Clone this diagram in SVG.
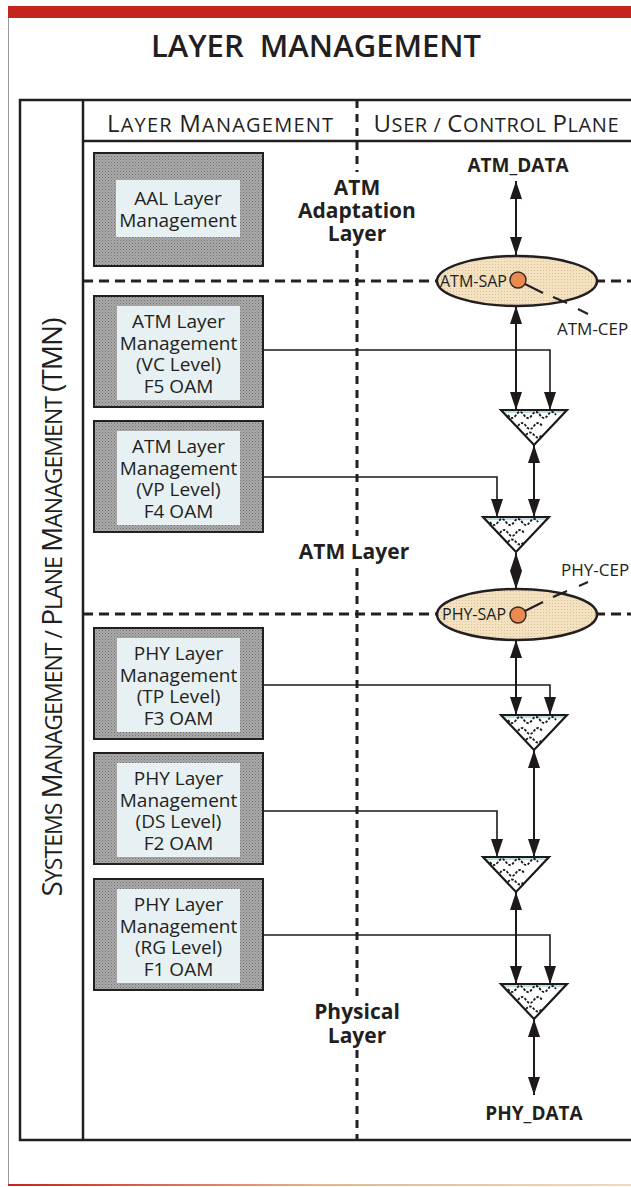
<svg xmlns="http://www.w3.org/2000/svg" width="631" height="1187" viewBox="0 0 631 1187">
<style>
text{font-family:"Open Sans","Noto Sans","Liberation Sans",sans-serif;fill:#231f20}
.title{font-size:31px;font-weight:600}
.hdr{font-size:20px}
.hb{font-size:24px}
.side{font-size:23px}
.sb{font-size:28px}
.bt{font-size:19px;text-anchor:middle}
.lay{font-size:21px;font-weight:700;text-anchor:middle}
.data{font-size:19px;font-weight:700;text-anchor:middle}
.sap{font-size:16px}
.cep{font-size:17px}
.frame{fill:none;stroke:#231f20;stroke-width:2.5}
.dash{fill:none;stroke:#231f20;stroke-width:3;stroke-dasharray:10 6}
.vdash{fill:none;stroke:#231f20;stroke-width:3;stroke-dasharray:8 6}
.box{fill:url(#gray);stroke:#231f20;stroke-width:2}
.inner{fill:#e7f0f3}
.ell{fill:url(#beige);stroke:#231f20;stroke-width:2.5}
.dot{fill:#e98a4e;stroke:#3a2a20;stroke-width:1.5}
.arr{fill:none;stroke:#1e1a1a;stroke-width:2;marker-start:url(#ah);marker-end:url(#ah)}
.con{fill:none;stroke:#1e1a1a;stroke-width:1.6;marker-end:url(#ah)}
.cep-l{stroke:#231f20;stroke-width:2}
.wave{fill:none;stroke:#1e1a1a;stroke-width:1.8;stroke-dasharray:2.5 1.5}
</style>
<defs>
<pattern id="gray" width="3" height="3" patternUnits="userSpaceOnUse">
<rect width="3" height="3" fill="#ababab"/><rect width="1" height="1" fill="#6f6f6f"/><rect x="1.5" y="1.5" width="1" height="1" fill="#7e7e7e"/>
</pattern>
<pattern id="beige" width="3" height="3" patternUnits="userSpaceOnUse">
<rect width="3" height="3" fill="#f3e1c0"/><rect width="1" height="1" fill="#d8c19b"/>
</pattern>
<linearGradient id="bot" x1="0" x2="1" y1="0" y2="0">
<stop offset="0" stop-color="#c4241c"/><stop offset="0.5" stop-color="#e8b48a"/><stop offset="1" stop-color="#f0d9bf"/>
</linearGradient>
<marker id="ah" viewBox="0 0 18 12" refX="18" refY="6" markerWidth="18" markerHeight="12" markerUnits="userSpaceOnUse" orient="auto-start-reverse">
<path d="M0,0 L18,6 L0,12 Z" fill="#1e1a1a"/>
</marker>
<clipPath id="triclip"><path d="M0,0 H66 L33,35 Z"/></clipPath>
<g id="tri">
<path d="M0,0 H66 L33,35 Z" fill="#ffffff"/>
<g clip-path="url(#triclip)">
<rect x="0" y="0" width="66" height="3" fill="#b9e2e6"/>
<path class="wave" d="M7,5 q4,6 8,0 t8,0 t8,0 t8,0 t8,0 t8,0"/>
<path class="wave" d="M17,16 q4,-6 8,0 t8,0 t8,0"/>
<path class="wave" d="M25,25 q4,-5 8,0 t8,0"/>
</g>
<path d="M0,0 H66 L33,35 Z" fill="none" stroke="#1e1a1a" stroke-width="2.2" stroke-linejoin="miter"/>
</g>
</defs>

<rect width="631" height="1187" fill="#ffffff"/>
<g id="page">
<rect x="8" y="6" width="623" height="12" fill="#c4241c"/>
<line x1="8.5" y1="18" x2="8.5" y2="1186" stroke="#9a9a9a" stroke-width="1"/>
<rect x="8" y="1184" width="623" height="2" fill="url(#bot)"/>
</g>

<text id="title" class="title" x="316" y="57" text-anchor="middle" xml:space="preserve">LAYER  MANAGEMENT</text>

<g id="frame">
<path class="frame" d="M640,100 H20 V1140 H640"/>
<line class="frame" x1="83" y1="100" x2="83" y2="1140"/>
<line class="frame" x1="83" y1="141" x2="640" y2="141"/>
<path class="vdash" d="M357,100 V172 M357,250 V536 M357,568 V996 M357,1050 V1140"/>
<line class="dash" x1="83" y1="281" x2="640" y2="281"/>
<line class="dash" x1="83" y1="614" x2="640" y2="614"/>
</g>

<g id="headers">
<text x="220" y="132" text-anchor="middle" textLength="226" lengthAdjust="spacing"><tspan class="hb">L</tspan><tspan class="hdr">AYER </tspan><tspan class="hb">M</tspan><tspan class="hdr">ANAGEMENT</tspan></text>
<text x="496" y="132" text-anchor="middle" textLength="245" lengthAdjust="spacing"><tspan class="hb">U</tspan><tspan class="hdr">SER / </tspan><tspan class="hb">C</tspan><tspan class="hdr">ONTROL </tspan><tspan class="hb">P</tspan><tspan class="hdr">LANE</tspan></text>
<text transform="translate(62,607) rotate(-90)" x="0" y="0" text-anchor="middle" textLength="579" lengthAdjust="spacing"><tspan class="sb">S</tspan><tspan class="side">YSTEMS </tspan><tspan class="sb">M</tspan><tspan class="side">ANAGEMENT / </tspan><tspan class="sb">P</tspan><tspan class="side">LANE </tspan><tspan class="sb">M</tspan><tspan class="side">ANAGEMENT </tspan><tspan class="sb">(TMN)</tspan></text>
</g>

<g id="layer-labels">
<text class="lay" x="357" y="195">ATM</text>
<text class="lay" x="357" y="218">Adaptation</text>
<text class="lay" x="357" y="241">Layer</text>
<text class="lay" x="354" y="559">ATM Layer</text>
<text class="lay" x="357" y="1019">Physical</text>
<text class="lay" x="357" y="1043">Layer</text>
</g>

<g id="connectors">
<line class="arr" x1="516" y1="181" x2="516" y2="255"/>
<line class="arr" x1="516" y1="306" x2="516" y2="410"/>
<path class="con" d="M263,350 H550 V410"/>
<line class="arr" x1="534" y1="445" x2="534" y2="517"/>
<path class="con" d="M263,477 H497 V517"/>
<line class="arr" x1="516" y1="553" x2="516" y2="589"/>
<line class="arr" x1="516" y1="640" x2="516" y2="715"/>
<path class="con" d="M263,685 H550 V715"/>
<line class="arr" x1="534" y1="750" x2="534" y2="857"/>
<path class="con" d="M263,811 H497 V857"/>
<line class="arr" x1="516" y1="892" x2="516" y2="984"/>
<path class="con" d="M263,935 H550 V984"/>
<line class="arr" x1="534" y1="1019" x2="534" y2="1095"/>
</g>

<g id="aal-box">
<rect class="box" x="94" y="153" width="169" height="113"/>
<rect class="inner" x="116" y="180" width="124" height="57"/>
<text class="bt"><tspan x="178" y="205">AAL Layer</tspan><tspan x="178" y="227">Management</tspan></text>
</g>
<g id="atm-vc-box">
<rect class="box" x="94" y="296" width="169" height="111"/>
<rect class="inner" x="117" y="306" width="123" height="94"/>
<text class="bt"><tspan x="178.5" y="328">ATM Layer</tspan><tspan x="178.5" y="349.5">Management</tspan><tspan x="178.5" y="371">(VC Level)</tspan><tspan x="178.5" y="392.5">F5 OAM</tspan></text>
</g>
<g id="atm-vp-box">
<rect class="box" x="94" y="421" width="169" height="111"/>
<rect class="inner" x="117" y="431" width="123" height="94"/>
<text class="bt"><tspan x="178.5" y="453">ATM Layer</tspan><tspan x="178.5" y="474.5">Management</tspan><tspan x="178.5" y="496">(VP Level)</tspan><tspan x="178.5" y="517.5">F4 OAM</tspan></text>
</g>
<g id="phy-tp-box">
<rect class="box" x="94" y="628" width="169" height="111"/>
<rect class="inner" x="117" y="638" width="123" height="94"/>
<text class="bt"><tspan x="178.5" y="660">PHY Layer</tspan><tspan x="178.5" y="681.5">Management</tspan><tspan x="178.5" y="703">(TP Level)</tspan><tspan x="178.5" y="724.5">F3 OAM</tspan></text>
</g>
<g id="phy-ds-box">
<rect class="box" x="94" y="753" width="169" height="111"/>
<rect class="inner" x="117" y="763" width="123" height="94"/>
<text class="bt"><tspan x="178.5" y="785">PHY Layer</tspan><tspan x="178.5" y="806.5">Management</tspan><tspan x="178.5" y="828">(DS Level)</tspan><tspan x="178.5" y="849.5">F2 OAM</tspan></text>
</g>
<g id="phy-rg-box">
<rect class="box" x="94" y="879" width="169" height="111"/>
<rect class="inner" x="117" y="889" width="123" height="94"/>
<text class="bt"><tspan x="178.5" y="911">PHY Layer</tspan><tspan x="178.5" y="932.5">Management</tspan><tspan x="178.5" y="954">(RG Level)</tspan><tspan x="178.5" y="975.5">F1 OAM</tspan></text>
</g>

<g id="atm-sap">
<ellipse class="ell" cx="517" cy="281" rx="80" ry="25"/>
<text class="sap" x="440" y="287">ATM-SAP</text>
<circle class="dot" cx="518" cy="280" r="8"/>
<line class="cep-l" x1="525" y1="284" x2="543" y2="293"/>
<line class="cep-l" x1="553" y1="297" x2="567" y2="303"/>
<line class="cep-l" x1="578" y1="309" x2="588" y2="314"/>
<text class="cep" x="557" y="335">ATM-CEP</text>
</g>
<g id="phy-sap">
<ellipse class="ell" cx="517" cy="614.5" rx="80" ry="25.5"/>
<text class="sap" x="442" y="620">PHY-SAP</text>
<circle class="dot" cx="518" cy="615" r="8"/>
<line class="cep-l" x1="525" y1="611" x2="543" y2="602"/>
<line class="cep-l" x1="553" y1="597" x2="567" y2="591"/>
<line class="cep-l" x1="579" y1="586" x2="588" y2="582"/>
<text class="cep" x="561" y="576">PHY-CEP</text>
</g>

<g id="mux1"><use href="#tri" x="501" y="410"/></g>
<g id="mux2"><use href="#tri" x="483" y="517"/></g>
<g id="mux3"><use href="#tri" x="501" y="715"/></g>
<g id="mux4"><use href="#tri" x="483" y="857"/></g>
<g id="mux5"><use href="#tri" x="501" y="984"/></g>

<g id="data-labels">
<text class="data" x="518" y="172">ATM_DATA</text>
<text class="data" x="534" y="1120">PHY_DATA</text>
</g>
</svg>
